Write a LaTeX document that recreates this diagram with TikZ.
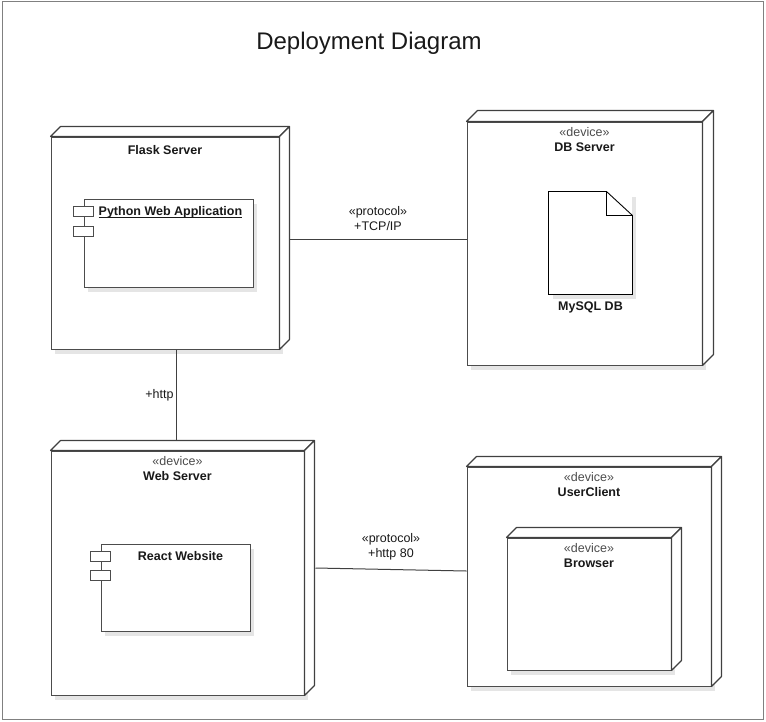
\documentclass[tikz,border=0pt]{standalone}
\usepackage{fontspec}
\setmainfont{Liberation Sans}
\usetikzlibrary{positioning, shadows}

\begin{document}
\begin{tikzpicture}[
        x=1pt, y=-1pt,
        every node/.style={inner sep=0pt, text=black!90, font=\fontsize{12.5}{14.5}\selectfont},
        box/.style={draw=black!70, line width=1pt, fill=white, drop shadow={shadow xshift=4pt, shadow yshift=-5pt, fill=black!10, opacity=1}},
        face/.style={draw=black!75, line width=1.1pt, fill=white, line join=round},
        port/.style={draw=black!70, line width=1pt, fill=white, minimum width=20, minimum height=10},
        stereo/.style={align=center},
        link/.style={draw=black!75, line width=1pt}
    ]
    \useasboundingbox (0,0) rectangle (766,721);

    % Rahmen und Titel
    \node[draw=black!50, line width=1pt, minimum width=761, minimum height=718] (window) at (382.5,360) {};
    \node[font=\fontsize{24}{28}\selectfont] (title) at (369,43) {Deployment Diagram};

    % Knoten (Vorderseite)
    \node[box, minimum width=228, minimum height=212] (flask) at (165,243) {};
    \node[box, minimum width=235, minimum height=243] (db) at (584.5,243.5) {};
    \node[box, minimum width=253, minimum height=244] (web) at (177.5,573) {};
    \node[box, minimum width=244, minimum height=219] (client) at (589,576.5) {};

    % 3D-Seiten
    \foreach \n/\d in {flask/10, db/11, web/10, client/10} {
        \draw[face] (\n.north west) -- ++(\d,-\d) -- ([shift={(\d,-\d)}]\n.north east) -- (\n.north east) -- cycle;
        \draw[face] (\n.north east) -- ([shift={(\d,-\d)}]\n.north east) -- ([shift={(\d,-\d)}]\n.south east) -- (\n.south east) -- cycle;
    }

    % Inhalte
    \node[box, minimum width=169, minimum height=88] (pyapp) at (168.5,243) {};
    \node[port] (pyport1) at ([yshift=-13pt]pyapp.north west) {};
    \node[port] (pyport2) at ([yshift=-33pt]pyapp.north west) {};
    \node[box, minimum width=149, minimum height=87] (react) at (175.5,587.5) {};
    \node[port] (reactport1) at ([yshift=-12.5pt]react.north west) {};
    \node[port] (reactport2) at ([yshift=-32pt]react.north west) {};
    \node[box, draw=none, minimum width=83, minimum height=102] (doc) at (590.5,243) {};
    \draw[draw=black, line width=0.9pt, fill=white] (doc.north west) -- ([xshift=-26pt]doc.north east) -- ([yshift=-24pt]doc.north east) -- (doc.south east) -- (doc.south west) -- cycle;
    \draw[draw=black, line width=0.9pt] ([xshift=-26pt]doc.north east) |- ([yshift=-24pt]doc.north east);
    \node[box, minimum width=164, minimum height=132] (browser) at (589,604) {};
    \foreach \n/\d in {browser/10} {
        \draw[face] (\n.north west) -- ++(\d,-\d) -- ([shift={(\d,-\d)}]\n.north east) -- (\n.north east) -- cycle;
        \draw[face] (\n.north east) -- ([shift={(\d,-\d)}]\n.north east) -- ([shift={(\d,-\d)}]\n.south east) -- (\n.south east) -- cycle;
    }

    % Beschriftungen
    \node[below=9pt of flask.north] (flasklabel) {\textbf{Flask Server}};
    \node[stereo, below=6pt of db.north] (dblabel) {{\color{black!70}«device»}\\\textbf{DB Server}};
    \node[stereo, below=6pt of web.north] (weblabel) {{\color{black!70}«device»}\\\textbf{Web Server}};
    \node[stereo, below=6pt of client.north] (clientlabel) {{\color{black!70}«device»}\\\textbf{UserClient}};
    \node[stereo, below=6pt of browser.north] (browserlabel) {{\color{black!70}«device»}\\\textbf{Browser}};
    \node[anchor=north west] (pylabel) at ([shift={(15,8)}]pyapp.north west) {\textbf{Python Web Application}};
    \draw[black!90, line width=0.9pt] ([yshift=-1.8pt]pylabel.base west) -- ([yshift=-1.8pt]pylabel.base east);
    \node[below=8pt of react.north, xshift=5pt] (reactlabel) {\textbf{React Website}};
    \node[below=7pt of doc.south] (doclabel) {\textbf{MySQL DB}};

    % Verbindungen
    \draw[link] ([shift={(10,-4)}]flask.east) -- ([yshift=4pt]flask.east -| db.west)
        node[midway, above=8pt, stereo] {«protocol»\\+TCP/IP};
    \draw[link] ([xshift=11pt]flask.south) -- ([xshift=11pt, yshift=10pt]flask.south |- web.north)
        node[midway, left=2pt] {+http};
    \draw[link] ([shift={(11,-5)}]web.east) -- ([yshift=5.5pt]client.west)
        node[midway, above=9pt, stereo] {«protocol»\\+http 80};

\end{tikzpicture}
\end{document}
